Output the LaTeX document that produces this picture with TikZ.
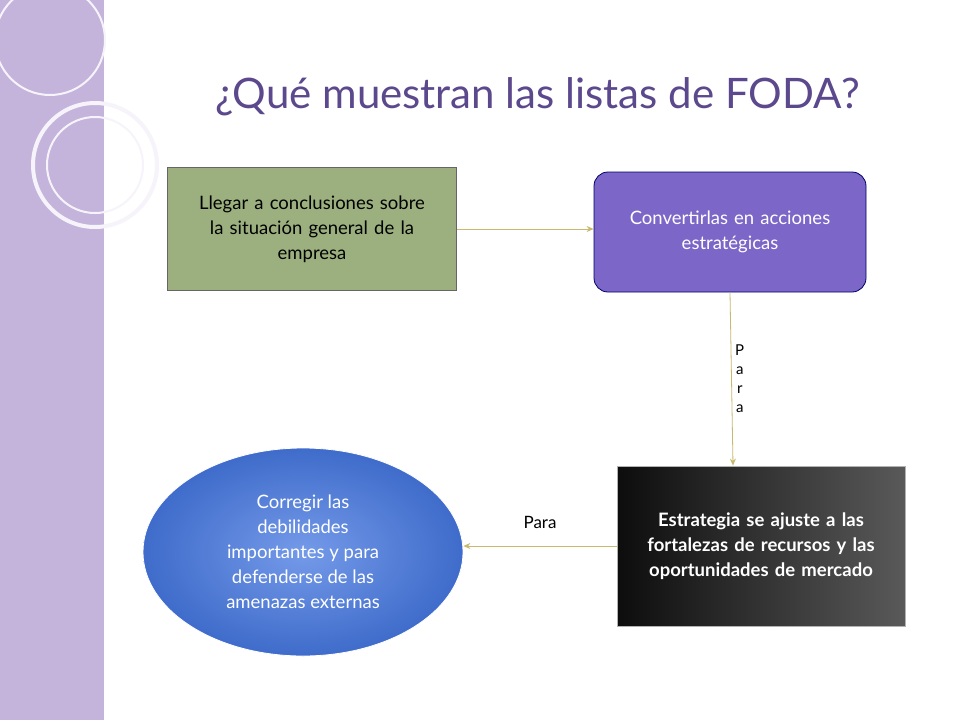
\documentclass[tikz,border=0pt]{standalone}
\usepackage{fontspec}
\setmainfont{Lato}
\usetikzlibrary{arrows.meta,shapes.geometric}
\definecolor{stripviolet}{RGB}{196,180,220}
\definecolor{titleviolet}{RGB}{92,72,140}
\definecolor{boxgreen}{RGB}{155,176,126}
\definecolor{boxpurple}{RGB}{124,103,200}
\definecolor{ovalblue}{RGB}{70,120,225}
\definecolor{linkgold}{RGB}{200,185,110}
\begin{document}
\begin{tikzpicture}[
    x=1pt, y=-1pt,
    box/.style={rectangle, draw, thick, align=center, font=\fontsize{18.5}{25}\selectfont, inner sep=4pt},
    link/.style={-{Stealth[length=7pt,width=6pt]}, color=linkgold, line width=0.8pt},
    link_label/.style={font=\fontsize{17}{20}\selectfont, text=black}
]
\useasboundingbox (0,0) rectangle (960,720);
\clip (0,0) rectangle (960,720);
% Background and side strip
\fill[white] (0,0) rectangle (960,720);
\fill[stripviolet] (0,0) rectangle (105,720);
\draw[white, line width=1.2pt] (105,0) -- (105,720);
\draw[white!85!stripviolet, line width=2pt] (50,40) circle (55);
\draw[white!85!stripviolet, line width=4pt] (95,165) circle (62);
\draw[white!85!stripviolet, line width=2pt] (95,165) circle (48);

% Title
\node[font=\fontsize{42}{48}\selectfont, text=titleviolet] (title) at (538,97) {¿Qué muestran las listas de FODA?};

% Nodes
\node[box, fill=boxgreen, draw=black!60, minimum width=289, minimum height=123, text width=280] (concl) at (312,229) {Llegar a conclusiones sobre\\la situación general de la\\empresa};
\node[box, fill=boxpurple, draw=blue!40!black, rounded corners=14pt, minimum width=272, minimum height=120, text width=262, text=white] (acc) at (730,232) {Convertirlas en acciones\\estratégicas};
\node[box, left color=black!95, right color=black!65, draw=black!30, minimum width=288, minimum height=160, text width=280, text=white, font=\bfseries\fontsize{18.5}{25}\selectfont] (estr) at (761,546) {Estrategia se ajuste a las\\fortalezas de recursos y las\\oportunidades de mercado};
\node[ellipse, draw=white, thick, inner color=ovalblue!75!white, outer color=ovalblue!90!black, minimum width=320, minimum height=208, align=center, text=white, font=\fontsize{18.5}{25}\selectfont] (correg) at (303,552) {Corregir las\\debilidades\\importantes y para\\defenderse de las\\amenazas externas};

% Edges
\draw[link] (concl.east) -- (acc.west |- concl.east);
\draw[link] (acc.south) -- node[link_label, right, align=center, font=\fontsize{15}{19}\selectfont] {P\\a\\r\\a} ([xshift=3]estr.north west -| acc.south);
\draw[link] (estr.west) -- node[link_label, above=14pt] {Para} (correg.east |- estr.west);
\end{tikzpicture}
\end{document}
